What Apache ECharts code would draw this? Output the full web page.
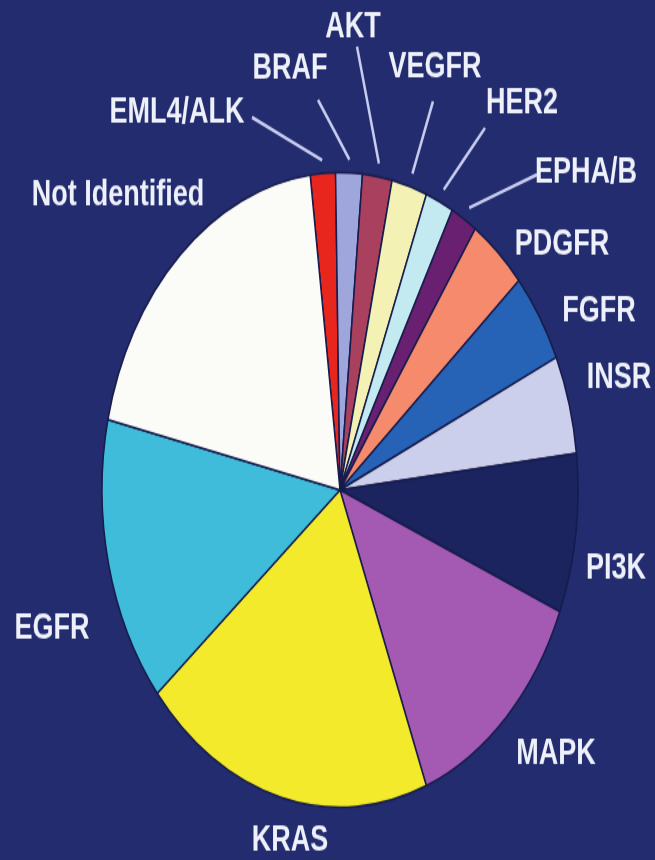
<!DOCTYPE html>
<html>
<head>
<meta charset="utf-8">
<script src="https://cdn.jsdelivr.net/npm/echarts@6/dist/echarts.min.js"></script>
<style>
  html, body { margin: 0; padding: 0; background: #222c6e; width: 655px; height: 860px; overflow: hidden; }
  #frame { position: relative; width: 655px; height: 860px; overflow: hidden; }
  /* the original picture is stretched vertically, so draw flat and stretch */
  #main { position: absolute; left: 0; top: 0; width: 655px; height: 645px;
          transform: scale(1, 1.33333); transform-origin: 0 0; }
</style>
</head>
<body>
<div id="frame"><div id="main"></div></div>
<script>
// slices, clockwise from the top
var names = ['EML4/ALK', 'BRAF', 'AKT', 'VEGFR', 'HER2', 'EPHA/B', 'PDGFR', 'FGFR',
             'INSR', 'PI3K', 'MAPK', 'KRAS', 'EGFR', 'Not Identified'];
var values = [1.7, 1.8, 2.0, 2.4, 1.9, 1.8, 3.9, 4.6, 5.0, 8.1, 12.8, 19.8, 14.6, 19.4];

var sliceColors = ['#e8261e', '#9ea6dc', '#a8405e', '#f3f1b4', '#c2eaf0', '#6a2070', '#f58a6c',
                   '#2663b6', '#cccfec', '#1b245e', '#a45ab2', '#f2ea2a', '#3fbcd9', '#fbfbf8'];

// where each label sits (chart px, before the vertical stretch)
var labelSpots = {
    'EML4/ALK': [177, 85], 'BRAF': [290, 52], 'AKT': [353, 21], 'VEGFR': [435, 51],
    'HER2': [522, 78], 'EPHA/B': [586, 130], 'PDGFR': [562, 184], 'FGFR': [599, 234],
    'INSR': [619, 284], 'PI3K': [616, 427], 'MAPK': [556, 566], 'KRAS': [290, 631],
    'EGFR': [52, 472], 'Not Identified': [118, 147]
};
// outer end of the leader line, only the small slices have one
var leaderTails = {
    'EML4/ALK': [252, 88], 'BRAF': [318, 75], 'AKT': [357, 35],
    'VEGFR': [433, 76], 'HER2': [485, 96], 'EPHA/B': [537, 131]
};

var myChart = echarts.init(document.getElementById('main'));

var data = [];
for (var i = 0; i < names.length; i++) {
    data.push({
        name: names[i],
        value: values[i],
        itemStyle: { color: sliceColors[i] },
        labelLine: { show: !!leaderTails[names[i]] }
    });
}

var option = {
    backgroundColor: '#222c6e',
    animation: false,
    series: [
        {
            type: 'pie',
            center: [340, 367.5],
            radius: 238,
            startAngle: 97.2,
            clockwise: true,
            avoidLabelOverlap: false,
            data: data,
            itemStyle: {
                borderColor: '#161c4c',
                borderWidth: 1.5
            },
            label: {
                show: true,
                position: 'outside',
                formatter: '{b}',
                color: '#eef0fa',
                fontFamily: 'Liberation Sans, Arial, sans-serif',
                fontWeight: 'bold',
                fontSize: 27
            },
            labelLine: {
                length: 15,
                length2: 10,
                lineStyle: { color: '#c8cdf0', width: 2.5 }
            },
            labelLayout: function (params) {
                var name = names[params.dataIndex];
                var spot = labelSpots[name];
                var out = { x: spot[0], y: spot[1], align: 'center', verticalAlign: 'middle' };
                var tail = leaderTails[name];
                var pts = params.labelLinePoints;
                if (tail && pts && pts.length > 1) {
                    var dx = pts[1][0] - pts[0][0];
                    var dy = pts[1][1] - pts[0][1];
                    var d = Math.sqrt(dx * dx + dy * dy) || 1;
                    var gap = 10;
                    var inner = [pts[0][0] + dx / d * gap, pts[0][1] + dy / d * gap];
                    var mid = [(inner[0] + tail[0]) / 2, (inner[1] + tail[1]) / 2];
                    out.labelLinePoints = [inner, mid, tail];
                }
                return out;
            }
        }
    ]
};

if (option && typeof option === "object") {
    myChart.setOption(option, true);
}
</script>
</body>
</html>
